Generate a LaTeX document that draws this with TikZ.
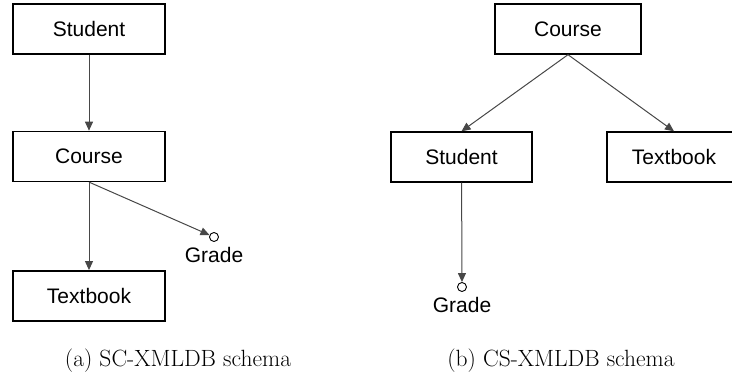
\documentclass[tikz,border=0pt]{standalone}
\usepackage{fontspec}
\newfontfamily\arialfont{Liberation Sans}
\usetikzlibrary{arrows.meta,positioning}

\begin{document}
\begin{tikzpicture}[
  x=1pt,y=-1pt,
  >={Triangle[length=9pt,width=8pt]},
  box/.style={draw,line width=1.4pt,minimum height=50pt,inner sep=0pt,font=\arialfont\fontsize{21}{25}\selectfont},
  leaf/.style={circle,draw,line width=0.9pt,minimum size=9pt,inner sep=0pt},
  leaflabel/.style={font=\arialfont\fontsize{21}{25}\selectfont,inner sep=0pt},
  link/.style={->,line width=1pt,black!72},
  subcap/.style={font=\fontsize{23.5}{28}\selectfont,inner sep=0pt,anchor=base},
]
\useasboundingbox (0,0) rectangle (732,383);

% (a) SC-XMLDB
\node[box,minimum width=152pt] (stuA) at (89,29) {Student};
\node[box,minimum width=152pt,below=76pt of stuA] (crsA) {Course};
\node[box,minimum width=152pt,below=88pt of crsA] (txtA) {Textbook};
\node[leaf] (gA) at (214,237) {};
\node[leaflabel,below=5pt of gA] (gAlbl) {Grade};

% (b) CS-XMLDB
\node[box,minimum width=146pt] (crsB) at (568,29) {Course};
\node[box,minimum width=141pt] (stuB) at (461.5,157) {Student};
\node[box,minimum width=134pt] (txtB) at (674,157) {Textbook};
\node[leaf] (gB) at (462,287) {};
\node[leaflabel,below=5pt of gB] (gBlbl) {Grade};

\node[subcap] (capA) at (178,366) {(a) SC-XMLDB schema};
\node[subcap] (capB) at (561,366) {(b) CS-XMLDB schema};

\draw[link] (stuA) -- (crsA);
\draw[link] (crsA) -- (txtA);
\draw[link] (crsA.south) -- (gA);
\draw[link] (crsB.south) -- (stuB.north);
\draw[link] (crsB.south) -- (txtB.north);
\draw[link] (stuB) -- (gB);
\end{tikzpicture}
\end{document}
